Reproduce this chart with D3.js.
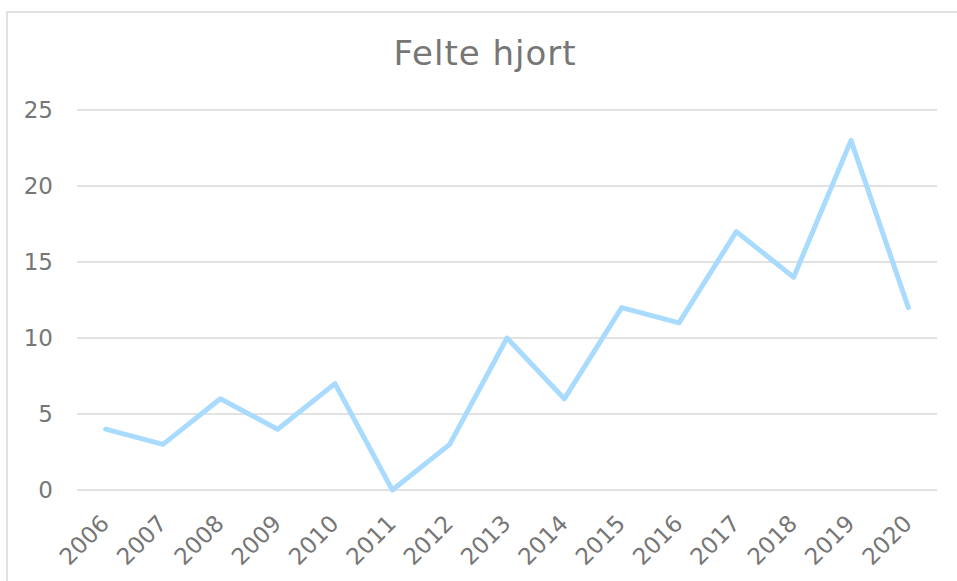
<!DOCTYPE html>
<html>
<head>
<meta charset="utf-8">
<script src="https://cdn.jsdelivr.net/npm/d3@7"></script>
<style>
  body { margin: 0; background: #fff; }
  svg text { font-family: "DejaVu Sans", Verdana, sans-serif; }
</style>
</head>
<body>
<svg width="957" height="581"></svg>
<script>
// Data
var years = ["2006", "2007", "2008", "2009", "2010", "2011", "2012", "2013",
             "2014", "2015", "2016", "2017", "2018", "2019", "2020"];
var felte = [4, 3, 6, 4, 7, 0, 3, 10, 6, 12, 11, 17, 14, 23, 12];
var yTicks = [0, 5, 10, 15, 20, 25];
var title = "Felte hjort";

var svg = d3.select("svg"),
    width = +svg.attr("width"),
    height = +svg.attr("height");

var margin = { top: 110, right: 20, bottom: 91, left: 77 };

// Chart frame
svg.append("rect")
    .attr("x", 7)
    .attr("y", 12)
    .attr("width", 970)
    .attr("height", 600)
    .attr("fill", "#fff")
    .attr("stroke", "#d9d9d9")
    .attr("stroke-width", 1.5);

var x = d3.scaleBand()
    .domain(years)
    .range([margin.left, width - margin.right]);

var y = d3.scaleLinear()
    .domain([0, 25])
    .range([height - margin.bottom, margin.top]);

// Gridlines
svg.append("g")
    .attr("class", "grid")
    .selectAll("line")
    .data(yTicks)
    .enter().append("line")
    .attr("x1", x.range()[0])
    .attr("x2", x.range()[1])
    .attr("y1", function(d) { return y(d); })
    .attr("y2", function(d) { return y(d); })
    .attr("stroke", "#d9d9d9")
    .attr("stroke-width", 1.5);

// Y axis labels
var yAxis = svg.append("g")
    .attr("transform", "translate(" + (margin.left - 24) + ",0)")
    .call(d3.axisLeft(y).tickValues(yTicks).tickSize(0).tickPadding(0));
yAxis.select(".domain").remove();
yAxis.selectAll("text")
    .attr("fill", "#767676")
    .attr("font-size", "23px")
    .attr("font-family", "DejaVu Sans, Verdana, sans-serif");

// X axis labels, rotated
var xAxis = svg.append("g")
    .attr("transform", "translate(0," + (height - margin.bottom) + ")")
    .call(d3.axisBottom(x).tickSize(0).tickPadding(0));
xAxis.select(".domain").remove();
xAxis.selectAll("text")
    .attr("fill", "#767676")
    .attr("font-size", "23px")
    .attr("font-family", "DejaVu Sans, Verdana, sans-serif")
    .attr("text-anchor", "end")
    .attr("dy", null)
    .attr("y", 0)
    .attr("transform", "translate(5,35) rotate(-45)");

// Line
var line = d3.line()
    .x(function(d, i) { return x(years[i]) + x.bandwidth() / 2; })
    .y(function(d) { return y(d); });

svg.append("path")
    .datum(felte)
    .attr("fill", "none")
    .attr("stroke", "#a9dbff")
    .attr("stroke-width", 5)
    .attr("stroke-linejoin", "round")
    .attr("stroke-linecap", "round")
    .attr("d", line);

// Title
svg.append("text")
    .attr("x", 485)
    .attr("y", 65)
    .attr("text-anchor", "middle")
    .attr("fill", "#767676")
    .attr("font-size", "34px")
    .attr("letter-spacing", "1px")
    .text(title);
</script>
</body>
</html>
